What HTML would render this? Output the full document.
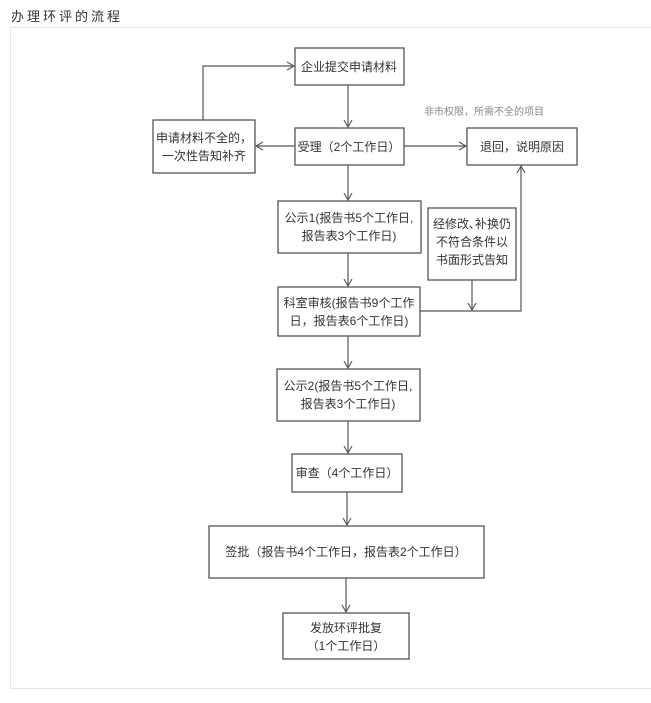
<!DOCTYPE html>
<html><head><meta charset="utf-8"><style>
body{margin:0;background:#fff;width:651px;height:703px;overflow:hidden;font-family:"Liberation Sans","Noto Sans CJK SC",sans-serif}
.t{position:absolute;left:11px;top:6px;font-size:13px;letter-spacing:3px;color:#333}
.frame{position:absolute;left:10px;top:27px;width:645px;height:660px;border:1px solid #e6e6e6;background:#fff}
svg{position:absolute;left:0;top:0}
svg text{font-family:"Liberation Sans","Noto Sans CJK SC",sans-serif;font-size:12px;fill:#333;text-anchor:middle}
</style></head><body>
<div class="t">办理环评的流程</div>
<div class="frame"></div>
<svg width="651" height="703" viewBox="0 0 651 703">
<defs><marker id="a" markerWidth="10" markerHeight="10" refX="8" refY="5" orient="auto" markerUnits="userSpaceOnUse"><path d="M1,1 L8,5 L1,9" fill="none" stroke="#555" stroke-width="1.1"/></marker></defs>
<g fill="#fff" stroke="#555" stroke-width="1.3">
<rect x="295" y="48" width="109" height="37"/>
<rect x="295" y="128" width="109" height="37"/>
<rect x="153" y="120" width="102" height="53"/>
<rect x="467" y="128" width="110" height="37"/>
<rect x="278" y="201" width="143" height="52"/>
<rect x="428" y="208" width="88" height="72"/>
<rect x="278" y="287" width="142" height="49"/>
<rect x="277" y="369" width="143" height="52"/>
<rect x="292" y="454" width="110" height="38"/>
<rect x="209" y="526" width="275" height="52"/>
<rect x="283" y="613" width="126" height="46"/>
</g>
<g fill="none" stroke="#555" stroke-width="1.2">
<line x1="348" y1="85" x2="348" y2="127" marker-end="url(#a)"/>
<line x1="295" y1="146" x2="256" y2="146" marker-end="url(#a)"/>
<line x1="404" y1="146" x2="466" y2="146" marker-end="url(#a)"/>
<polyline points="203,120 203,66 294,66" marker-end="url(#a)"/>
<line x1="348" y1="165" x2="348" y2="200" marker-end="url(#a)"/>
<line x1="348" y1="253" x2="348" y2="286" marker-end="url(#a)"/>
<polyline points="420,311 521,311 521,166" marker-end="url(#a)"/>
<line x1="472" y1="280" x2="472" y2="310" marker-end="url(#a)"/>
<line x1="348" y1="336" x2="348" y2="368" marker-end="url(#a)"/>
<line x1="348" y1="421" x2="348" y2="453" marker-end="url(#a)"/>
<line x1="347" y1="492" x2="347" y2="525" marker-end="url(#a)"/>
<line x1="346" y1="578" x2="346" y2="612" marker-end="url(#a)"/>
</g>
<text x="349" y="71">企业提交申请材料</text>
<text x="349" y="151">受理（2个工作日）</text>
<text x="204" y="142">申请材料不全的，</text>
<text x="204" y="160">一次性告知补齐</text>
<text x="522" y="151">退回，说明原因</text>
<text x="484" y="115" style="font-size:10px;fill:#888">非市权限，所需不全的项目</text>
<text x="349" y="222">公示1(报告书5个工作日,</text>
<text x="349" y="240">报告表3个工作日)</text>
<text x="472" y="228">经修改､补换仍</text>
<text x="472" y="246">不符合条件以</text>
<text x="472" y="264">书面形式告知</text>
<text x="349" y="307">科室审核(报告书9个工作</text>
<text x="349" y="325">日，报告表6个工作日)</text>
<text x="348" y="390">公示2(报告书5个工作日,</text>
<text x="348" y="408">报告表3个工作日)</text>
<text x="347" y="477">审查（4个工作日）</text>
<text x="346" y="556">签批（报告书4个工作日，报告表2个工作日）</text>
<text x="346" y="632">发放环评批复</text>
<text x="346" y="650">（1个工作日）</text>
</svg>
</body></html>
